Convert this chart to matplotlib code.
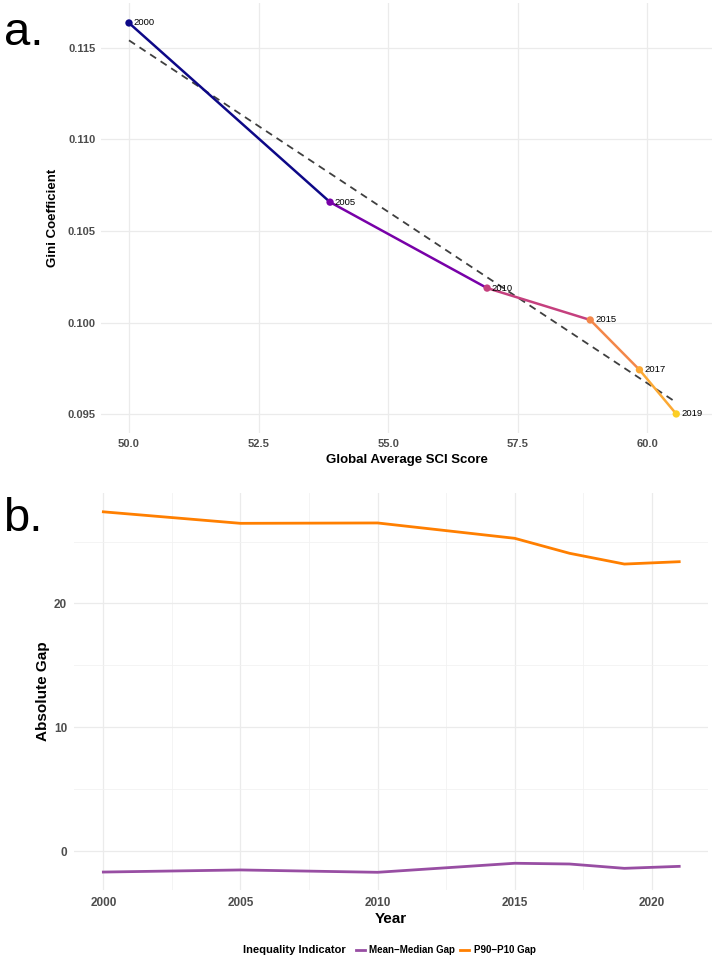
import matplotlib
matplotlib.use("Agg")
import matplotlib.pyplot as plt
import numpy as np
from matplotlib.lines import Line2D

# panel a data
years_a = [2000, 2005, 2010, 2015, 2017, 2019]
sci = [50.0, 53.88, 56.91, 58.90, 59.85, 60.56]
gini = [0.11636, 0.10658, 0.10189, 0.10015, 0.09743, 0.09502]

# panel b data
years_b = [2000, 2005, 2010, 2015, 2017, 2019, 2021]
mean_median = [-1.70, -1.53, -1.72, -0.99, -1.05, -1.40, -1.24]
p90_p10 = [27.40, 26.47, 26.50, 25.26, 24.05, 23.18, 23.37]

plt.rcParams['font.family'] = ['Liberation Sans', 'DejaVu Sans']
GRID = '#EBEBEB'
TICK = '#4D4D4D'

fig = plt.figure(figsize=(7.15, 9.61), dpi=100)

# ---- panel a
ax1 = fig.add_axes([101/715, 1-433/961, 611/715, 430/961])
cmap = plt.get_cmap('plasma')
cols = [cmap(0.9*(y-2000)/19) for y in years_a]

# regression line (dashed)
k, b0 = np.polyfit(sci, gini, 1)
xs = np.array([min(sci), max(sci)])
ax1.plot(xs, k*xs + b0, ls=(0, (4, 3)), color='#3f3f3f', lw=1.3, zorder=2)

for i in range(len(sci)-1):
    ax1.plot(sci[i:i+2], gini[i:i+2], color=cols[i], lw=1.8, zorder=3,
             solid_capstyle='butt')
ax1.scatter(sci, gini, c=cols, s=28, zorder=4, linewidths=0)
for x, y, yr in zip(sci, gini, years_a):
    ax1.annotate(str(yr), (x, y), xytext=(3.5, 0), textcoords='offset points',
                 fontsize=6.8, va='center', ha='left', color='black', zorder=5)

ax1.set_xlim(49.46, 61.25)
ax1.set_ylim(0.09398, 0.11745)
ax1.set_xticks([50.0, 52.5, 55.0, 57.5, 60.0])
ax1.set_xticklabels(['50.0', '52.5', '55.0', '57.5', '60.0'])
ax1.set_yticks([0.095, 0.100, 0.105, 0.110, 0.115])
ax1.set_yticklabels(['0.095', '0.100', '0.105', '0.110', '0.115'])
ax1.grid(True, color=GRID, lw=0.9)
ax1.set_axisbelow(True)
for s in ax1.spines.values():
    s.set_visible(False)
ax1.tick_params(length=0, labelsize=8, labelcolor=TICK, pad=4)
for t in ax1.get_xticklabels() + ax1.get_yticklabels():
    t.set_fontweight('bold')
ax1.set_xlabel('Global Average SCI Score', fontsize=9.5, fontweight='bold', labelpad=4)
ax1.set_ylabel('Gini Coefficient', fontsize=9.5, fontweight='bold', labelpad=6)

# ---- panel b
ax2 = fig.add_axes([74/715, 1-890/961, 634/715, 397/961])
ax2.plot(years_b, mean_median, color='#984EA3', lw=2.0, label='Mean\u2212Median Gap')
ax2.plot(years_b, p90_p10, color='#FF7F00', lw=2.0, label='P90\u2212P10 Gap')
ax2.set_xlim(1998.93, 2022.05)
ax2.set_ylim(-3.15, 28.92)
ax2.set_xticks([2000, 2005, 2010, 2015, 2020])
ax2.set_xticks([2002.5, 2007.5, 2012.5, 2017.5], minor=True)
ax2.set_yticks([0, 10, 20])
ax2.set_yticks([5, 15, 25], minor=True)
ax2.grid(True, which='major', color=GRID, lw=0.9)
ax2.grid(True, which='minor', color='#F2F2F2', lw=0.6)
ax2.set_axisbelow(True)
for s in ax2.spines.values():
    s.set_visible(False)
ax2.tick_params(which='both', length=0, labelsize=8.5, labelcolor=TICK, pad=5)
for t in ax2.get_xticklabels() + ax2.get_yticklabels():
    t.set_fontweight('bold')
ax2.set_xlabel('Year', fontsize=11, fontweight='bold', labelpad=2)
ax2.set_ylabel('Absolute Gap', fontsize=11, fontweight='bold', labelpad=3)

# legend at bottom
fig.text(294/715, 1-950/961, 'Inequality Indicator', fontsize=8, fontweight='bold',
         ha='center', va='center')
handles = [Line2D([], [], color='#984EA3', lw=2), Line2D([], [], color='#FF7F00', lw=2)]
fig.legend(handles, ['Mean\u2212Median Gap', 'P90\u2212P10 Gap'], ncol=2,
           loc='center left', bbox_to_anchor=(351/715, 1-950/961), frameon=False,
           prop={'weight': 'bold', 'size': 7},
           handlelength=0.9, handletextpad=0.5, columnspacing=0.5, borderpad=0)

fig.text(4/715, 1-45/961, 'a.', fontsize=34, ha='left', va='baseline')
fig.text(3/715, 1-531/961, 'b.', fontsize=34, ha='left', va='baseline')

fig.savefig('out.png', dpi=100)
